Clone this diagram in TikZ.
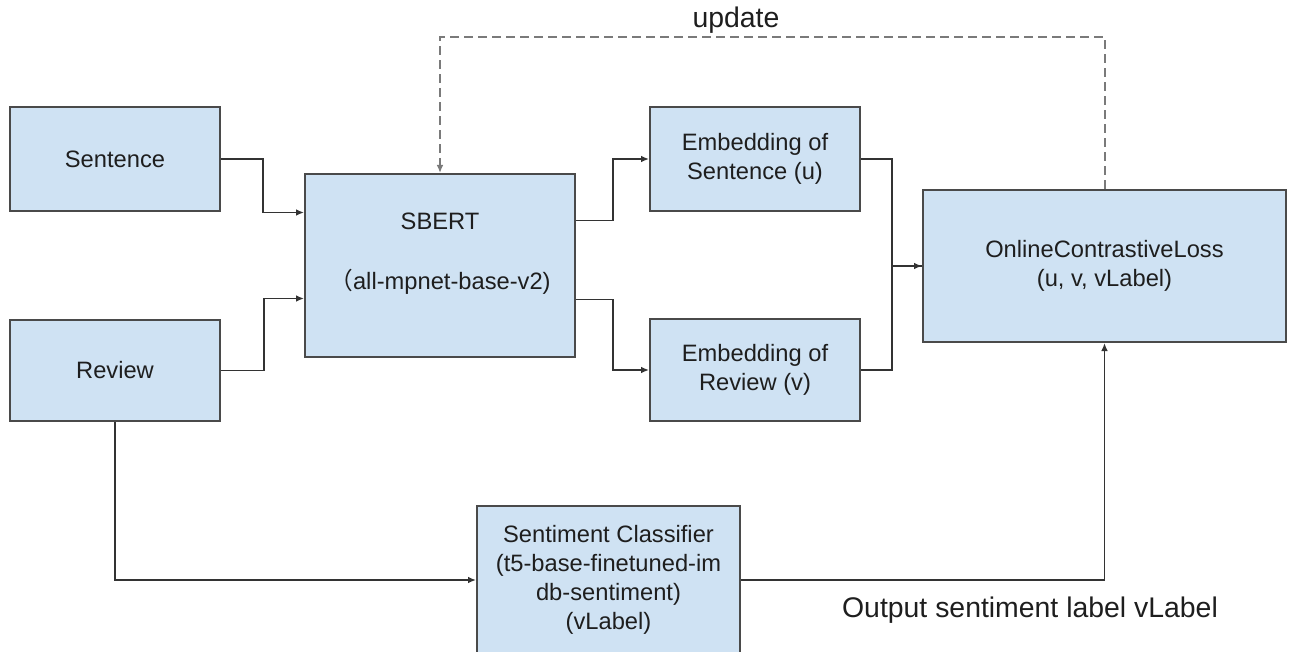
\documentclass[tikz,border=0pt]{standalone}
\usepackage{fontspec}
\setmainfont{Liberation Sans}
\newfontfamily\cjkfont{Noto Sans CJK SC}
\usetikzlibrary{calc,arrows.meta}

\definecolor{boxfill}{HTML}{CFE2F3}
\definecolor{boxline}{HTML}{4A4A4A}
\definecolor{linkcol}{HTML}{333333}
\definecolor{dashcol}{HTML}{7A7A7A}
\definecolor{txtcol}{HTML}{1E1E1E}

\tikzset{
  block/.style={draw=boxline, fill=boxfill, line width=1pt, inner sep=0pt,
    align=center, text=txtcol, font=\fontsize{11.85}{14.3}\selectfont},
  link/.style={draw=linkcol, line width=0.8pt, -{Latex[length=4pt,width=3.4pt]}},
  merge/.style={draw=linkcol, line width=0.8pt},
  feedback/.style={draw=dashcol, line width=1pt, dash pattern=on 4.5pt off 2.5pt,
    -{Latex[length=4pt,width=3.4pt]}},
  caption/.style={text=txtcol, inner sep=0pt, font=\fontsize{14.2}{17}\selectfont}
}

\begin{document}
\begin{tikzpicture}[x=0.5pt, y=-0.5pt]
\useasboundingbox (0,0) rectangle (1290,652);

% Inputs
\node[block, minimum width=105pt, minimum height=52pt] (sent) at (115,159) {Sentence};
\node[block, minimum width=105pt, minimum height=50.5pt] (rev) at (115,370.5) {Review};

% Encoder
\node[block, minimum width=135pt, minimum height=91.5pt] (sbert) at (440,265.5)
  {SBERT\\[15.8pt]{\cjkfont （}all-mpnet-base-v2)\\~};

% Embeddings
\node[block, minimum width=105pt, minimum height=52pt] (embS) at (755,159) {Embedding of\\Sentence (u)};
\node[block, minimum width=105pt, minimum height=51pt] (embR) at (755,370) {Embedding of\\Review (v)};

% Loss and classifier
\node[block, minimum width=181.5pt, minimum height=76pt] (loss) at (1104.5,266)
  {OnlineContrastiveLoss\\(u, v, vLabel)};
\node[block, minimum width=131.5pt, minimum height=74pt, font=\fontsize{11.85}{14.5}\selectfont] (clf) at (608.5,580)
  {Sentiment Classifier\\(t5-base-finetuned-im\\db-sentiment)\\(vLabel)};

% Labels
\node[caption] (upd) at (736,20) {update};
\node[caption] (outlbl) at (1030,610) {Output sentiment label vLabel};

% Inputs into SBERT
\draw[link] (sent.east) -- ++(42,0) |- ($(sbert.west)+(0,-53)$);
\draw[link] (rev.east) -- ++(43,0) |- ($(sbert.west)+(0,33)$);

% SBERT into embeddings
\draw[link] ($(sbert.east)+(0,-45)$) -- ++(37,0) |- (embS.west);
\draw[link] ($(sbert.east)+(0,34)$) -- ++(37,0) |- (embR.west);

% Embeddings into the loss
\draw[link] (embS.east) -- ++(31,0) |- (loss.west);
\draw[merge] (embR.east) -- ++(31,0) |- (loss.west);

% Label branch
\draw[link] (rev.south) |- (clf.west);
\draw[link] (clf.east) -| (loss.south);

% Update loop
\draw[feedback] (loss.north) -- ++(0,-152) -| (sbert.north);

\end{tikzpicture}
\end{document}
